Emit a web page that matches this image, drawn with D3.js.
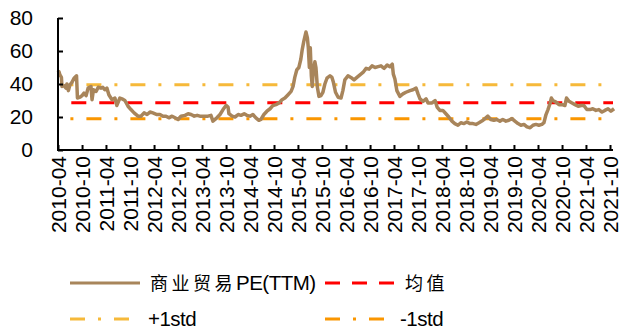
<!DOCTYPE html>
<html>
<head>
<meta charset="utf-8">
<script src="https://cdn.jsdelivr.net/npm/d3@7/dist/d3.min.js"></script>
<style>
  html, body { margin: 0; padding: 0; background: #fff; }
  svg { display: block; }
  text { font-family: "Liberation Sans", Arial, sans-serif; fill: #000; }
  .cjk { font-family: "Noto Sans CJK SC", sans-serif; }
</style>
</head>
<body>
<svg id="chart" width="621" height="329"></svg>
<script>
// 商业贸易 PE(TTM) history
const dates = [
  "2010-04-01","2010-04-08","2010-04-16","2010-04-27","2010-05-01","2010-05-16","2010-06-01","2010-06-08",
  "2010-06-19","2010-07-01","2010-07-16","2010-08-01","2010-08-20","2010-08-27","2010-09-16","2010-10-01",
  "2010-10-16","2010-11-01","2010-11-16","2010-12-08","2010-12-16","2010-12-27","2011-01-16","2011-02-01",
  "2011-02-22","2011-03-08","2011-03-23","2011-04-08","2011-04-23","2011-05-16","2011-06-08","2011-06-23",
  "2011-07-16","2011-08-01","2011-08-23","2011-09-16","2011-10-08","2011-11-01","2011-12-01","2011-12-23",
  "2012-01-16","2012-02-08","2012-03-01","2012-03-23","2012-04-23","2012-05-16","2012-06-08","2012-07-01",
  "2012-07-23","2012-08-16","2012-09-08","2012-10-01","2012-10-23","2012-11-23","2012-12-16","2013-01-08",
  "2013-02-01","2013-02-23","2013-03-16","2013-04-16","2013-05-16","2013-06-08","2013-06-23","2013-07-23",
  "2013-08-16","2013-09-08","2013-10-01","2013-10-16","2013-10-23","2013-11-16","2013-12-08","2014-01-01",
  "2014-01-23","2014-02-16","2014-03-08","2014-04-01","2014-04-23","2014-05-16","2014-06-08","2014-06-23",
  "2014-07-16","2014-08-08","2014-09-01","2014-09-23","2014-10-16","2014-11-08","2014-12-01","2014-12-23",
  "2015-01-16","2015-02-08","2015-02-23","2015-03-08","2015-03-23","2015-04-08","2015-04-23","2015-05-04",
  "2015-05-16","2015-06-01","2015-06-12","2015-06-19","2015-06-27","2015-07-04","2015-07-12","2015-07-19",
  "2015-07-27","2015-08-08","2015-08-16","2015-08-27","2015-09-08","2015-09-23","2015-10-08","2015-10-23",
  "2015-11-08","2015-12-01","2015-12-16","2015-12-27","2016-01-12","2016-02-01","2016-02-23","2016-03-08",
  "2016-03-23","2016-04-16","2016-05-08","2016-06-01","2016-06-23","2016-07-16","2016-08-08","2016-09-01",
  "2016-09-23","2016-10-16","2016-11-08","2016-12-01","2016-12-23","2017-01-16","2017-02-08","2017-03-01",
  "2017-03-19","2017-03-27","2017-04-08","2017-04-23","2017-05-16","2017-06-08","2017-07-01","2017-08-01",
  "2017-08-23","2017-09-16","2017-10-01","2017-10-16","2017-11-08","2017-12-01","2017-12-16","2018-01-16",
  "2018-02-08","2018-02-23","2018-03-16","2018-04-08","2018-05-01","2018-05-23","2018-06-16","2018-07-08",
  "2018-08-01","2018-08-23","2018-09-16","2018-10-08","2018-11-01","2018-11-23","2018-12-16","2019-01-08",
  "2019-02-08","2019-03-01","2019-03-16","2019-04-08","2019-05-01","2019-05-23","2019-06-16","2019-07-08",
  "2019-08-01","2019-08-23","2019-09-16","2019-10-08","2019-11-01","2019-11-23","2019-12-16","2020-01-08",
  "2020-02-01","2020-02-23","2020-03-16","2020-04-08","2020-05-01","2020-05-16","2020-06-01","2020-06-16",
  "2020-07-01","2020-07-12","2020-07-23","2020-08-16","2020-09-08","2020-10-01","2020-10-23","2020-11-04",
  "2020-11-23","2020-12-16","2021-01-08","2021-02-01","2021-02-23","2021-03-16","2021-04-08","2021-05-01",
  "2021-05-23","2021-06-16","2021-07-08","2021-08-01","2021-08-23","2021-09-16","2021-10-08","2021-11-01"
];
const peValues = [
  46.8,47.5,45.5,44.0,38.5,39.0,37.5,40.0,
  36.0,39.5,41.0,43.5,45.0,31.5,32.0,33.0,
  34.5,33.0,37.5,38.5,30.5,36.5,35.5,38.0,
  37.5,38.0,36.5,37.5,33.5,30.5,31.5,27.0,
  31.5,31.0,30.0,26.5,24.5,22.5,20.5,20.5,
  22.5,21.5,23.0,22.5,21.5,21.5,20.5,20.5,
  19.5,20.5,19.5,18.5,20.5,21.0,22.0,21.5,
  20.5,21.0,20.5,20.5,20.5,21.0,17.5,19.5,
  21.5,24.5,27.0,26.0,22.0,20.5,20.0,21.5,
  21.0,22.0,21.0,20.5,21.5,19.5,18.0,18.5,
  21.5,23.5,25.0,27.0,27.5,28.5,30.5,31.5,
  33.5,35.5,38.5,44.0,48.5,50.0,55.0,61.0,
  66.0,71.5,68.0,62.0,50.0,62.0,45.0,38.5,
  48.5,53.5,50.0,38.0,32.5,33.0,35.0,40.0,
  43.5,45.0,44.0,41.0,35.0,32.0,31.5,36.0,
  42.5,45.0,44.0,42.5,44.0,45.5,47.0,49.5,
  49.0,51.0,50.0,50.5,51.0,49.5,51.5,50.5,
  52.0,46.0,43.0,36.0,32.5,34.0,35.0,36.0,
  36.5,37.5,34.0,31.0,29.5,31.0,28.5,28.5,
  30.0,26.0,24.0,24.0,22.0,20.0,17.5,16.0,
  15.0,16.5,16.0,17.0,16.0,16.0,15.5,16.5,
  18.0,19.5,20.5,18.5,18.0,18.5,17.5,18.5,
  17.5,18.0,19.0,17.5,16.0,15.0,15.5,14.0,
  13.5,15.0,15.5,15.0,15.5,16.5,21.5,24.5,
  28.0,31.5,30.0,29.0,27.5,27.5,27.0,31.5,
  29.5,28.5,27.5,26.5,27.0,27.0,24.5,24.5,
  25.0,24.0,24.5,23.0,24.0,25.0,23.5,25.0
];
const meanValue = 28.7;
const plusStd = 39.6;
const minusStd = 19.0;

const yTicks = [0, 20, 40, 60, 80];
const xTickLabels = [
  "2010-04","2010-10","2011-04","2011-10","2012-04","2012-10","2013-04","2013-10",
  "2014-04","2014-10","2015-04","2015-10","2016-04","2016-10","2017-04","2017-10",
  "2018-04","2018-10","2019-04","2019-10","2020-04","2020-10","2021-04","2021-10"
];
const legendLabels = ["商业贸易PE(TTM)", "均值", "+1std", "-1std"];

const colors = {
  pe: "#A8855B",
  mean: "#FF0000",
  plus: "#F6B93A",
  minus: "#FA9600"
};

const parse = d3.timeParse("%Y-%m-%d");
const parseMonth = d3.timeParse("%Y-%m");
const series = dates.map((d, i) => ({ date: parse(d), value: peValues[i] }));
const tickDates = xTickLabels.map(parseMonth);

const svg = d3.select("#chart");
const plotLeft = 58, plotTop = 18, plotBottom = 150, plotRight = 613;

const x = d3.scaleTime()
  .domain([parseMonth("2010-04"), parseMonth("2021-10")])
  .range([plotLeft, 610]);
const y = d3.scaleLinear().domain([0, 80]).range([plotBottom, plotTop]);

// reference lines
function refLine(val, color, dash, offset) {
  svg.append("line")
    .attr("x1", plotLeft).attr("x2", plotRight)
    .attr("y1", y(val)).attr("y2", y(val))
    .attr("stroke", color).attr("stroke-width", 3)
    .attr("stroke-dasharray", dash)
    .attr("stroke-dashoffset", offset);
}
refLine(plusStd, colors.plus, "15,13,3,13", 15.6);
refLine(minusStd, colors.minus, "15,13,3,13", 15.6);
refLine(meanValue, colors.mean, "15,13", 14.7);

// PE series
const line = d3.line().x(d => x(d.date)).y(d => y(d.value));
svg.append("path")
  .datum(series)
  .attr("fill", "none")
  .attr("stroke", colors.pe)
  .attr("stroke-width", 3.5)
  .attr("stroke-linejoin", "round")
  .attr("d", line);

// y axis
const yAxis = svg.append("g")
  .attr("transform", `translate(${plotLeft},0)`)
  .call(d3.axisLeft(y).tickValues(yTicks).tickSizeInner(-5).tickSizeOuter(0).tickPadding(25));
yAxis.select(".domain").attr("stroke", "#000").attr("stroke-width", 2)
  .attr("d", `M0,${plotTop}V${plotBottom}`);
yAxis.selectAll(".tick line").attr("stroke", "#000").attr("stroke-width", 2);
yAxis.selectAll(".tick text")
  .style("font-family", "'Liberation Sans', Arial, sans-serif")
  .style("font-size", "21px").attr("fill", "#000");

// x axis
const xAxis = svg.append("g")
  .attr("transform", `translate(0,${plotBottom})`)
  .call(d3.axisBottom(x).tickValues(tickDates).tickFormat((d, i) => xTickLabels[i])
    .tickSizeInner(-5).tickSizeOuter(0));
xAxis.select(".domain").attr("stroke", "#000").attr("stroke-width", 2)
  .attr("d", `M${plotLeft - 1},0H${plotRight}`);
xAxis.selectAll(".tick line").attr("stroke", "#000").attr("stroke-width", 2);
xAxis.selectAll(".tick text")
  .style("font-family", "'Liberation Sans', Arial, sans-serif")
  .style("font-size", "21px").attr("fill", "#000")
  .attr("text-anchor", "end")
  .attr("dy", "0.35em")
  .attr("transform", "translate(0,6) rotate(-90)")
  .attr("x", 0).attr("y", 0);

// legend
const legend = svg.append("g");
const items = [
  { label: legendLabels[0], color: colors.pe, dash: null, lx: 70, ly: 283, tx: 150 },
  { label: legendLabels[1], color: colors.mean, dash: "15,12", lx: 325, ly: 283, tx: 405 },
  { label: legendLabels[2], color: colors.plus, dash: "15,13,3,13", lx: 70, ly: 319, tx: 148 },
  { label: legendLabels[3], color: colors.minus, dash: "15,13,3,13", lx: 325, ly: 319, tx: 400 }
];
items.forEach(it => {
  legend.append("line")
    .attr("x1", it.lx).attr("x2", it.lx + 70)
    .attr("y1", it.ly).attr("y2", it.ly)
    .attr("stroke", it.color).attr("stroke-width", 3)
    .attr("stroke-dasharray", it.dash);
  const t = legend.append("text")
    .attr("x", it.tx).attr("y", it.ly).attr("dy", "0.35em")
    .style("font-size", "20.5px");
  const m = it.label.match(/^([^\x00-\x7F]*)(.*)$/);
  if (m[1]) t.append("tspan").attr("class", "cjk").style("font-size", "18px")
    .attr("letter-spacing", "3.5px").text(m[1]);
  if (m[2]) t.append("tspan").style("letter-spacing", "-0.5px").text(m[2]);
});
</script>
</body>
</html>
